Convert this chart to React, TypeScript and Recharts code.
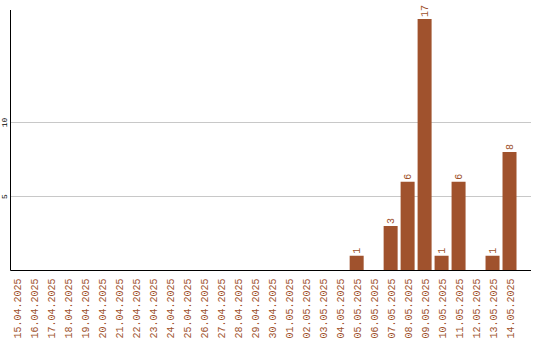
import { BarChart, Bar, XAxis, YAxis, CartesianGrid, LabelList } from 'recharts';

const dates = [
 '15.04.2025', '16.04.2025', '17.04.2025', '18.04.2025', '19.04.2025',
 '20.04.2025', '21.04.2025', '22.04.2025', '23.04.2025', '24.04.2025',
 '25.04.2025', '26.04.2025', '27.04.2025', '28.04.2025', '29.04.2025',
 '30.04.2025', '01.05.2025', '02.05.2025', '03.05.2025', '04.05.2025',
 '05.05.2025', '06.05.2025', '07.05.2025', '08.05.2025', '09.05.2025',
 '10.05.2025', '11.05.2025', '12.05.2025', '13.05.2025', '14.05.2025',
];

const counts = [
 0, 0, 0, 0, 0, 0, 0, 0, 0, 0,
 0, 0, 0, 0, 0, 0, 0, 0, 0, 0,
 1, 0, 3, 6, 17, 1, 6, 0, 1, 8,
];

const yTicks = [5, 10];

const BROWN = '#a0522d';
const MONO = '"Liberation Mono", "DejaVu Sans Mono", monospace';

const data = dates.map((d, i) => ({ date: d, count: counts[i] }));

function DateTick({ x, y, payload }: any) {
 return (
 <text
 x={x}
 y={y}
 transform={`rotate(-90, ${x}, ${y})`}
 textAnchor="end"
 dy="0.35em"
 fill={BROWN}
 fontFamily={MONO}
 fontSize={10}
 >
 {payload.value}
 </text>
 );
}

function CountTick({ y, payload }: any) {
 return (
 <text
 x={4}
 y={y}
 transform={`rotate(-90, 4, ${y})`}
 textAnchor="middle"
 dy="0.35em"
 fill="#000"
 fontFamily={MONO}
 fontSize={8}
 >
 {payload.value}
 </text>
 );
}

function ValueLabel({ x, y, width, value }: any) {
 if (!value) return null;
 const cx = x + width / 2;
 const ty = y - 2;
 return (
 <text
 x={cx}
 y={ty}
 transform={`rotate(-90, ${cx}, ${ty})`}
 textAnchor="start"
 dy="0.35em"
 fill={BROWN}
 fontFamily={MONO}
 fontSize={10}
 >
 {value}
 </text>
 );
}

export default function App() {
 return (
 <div style={{ position: 'absolute', left: 0, top: 0, background: '#fff' }}>
 <BarChart
 width={540}
 height={340}
 data={data}
 margin={{ top: 10, right: 9, bottom: 0, left: 0 }}
 >
 <CartesianGrid vertical={false} stroke="#c8c8c8" horizontalValues={yTicks} />
 <XAxis
 dataKey="date"
 interval={0}
 height={69.5}
 padding={{ left: -1.5, right: 12.5 }}
 tick={<DateTick />}
 tickLine={false}
 axisLine={{ stroke: '#000' }}
 />
 <YAxis
 width={10.5}
 domain={[0, 17.6]}
 ticks={yTicks}
 allowDataOverflow
 tick={<CountTick />}
 tickLine={false}
 axisLine={{ stroke: '#000' }}
 />
 <Bar dataKey="count" fill={BROWN} barSize={14} isAnimationActive={false}>
 <LabelList dataKey="count" content={<ValueLabel />} />
 </Bar>
 </BarChart>
 </div>
 );
}
